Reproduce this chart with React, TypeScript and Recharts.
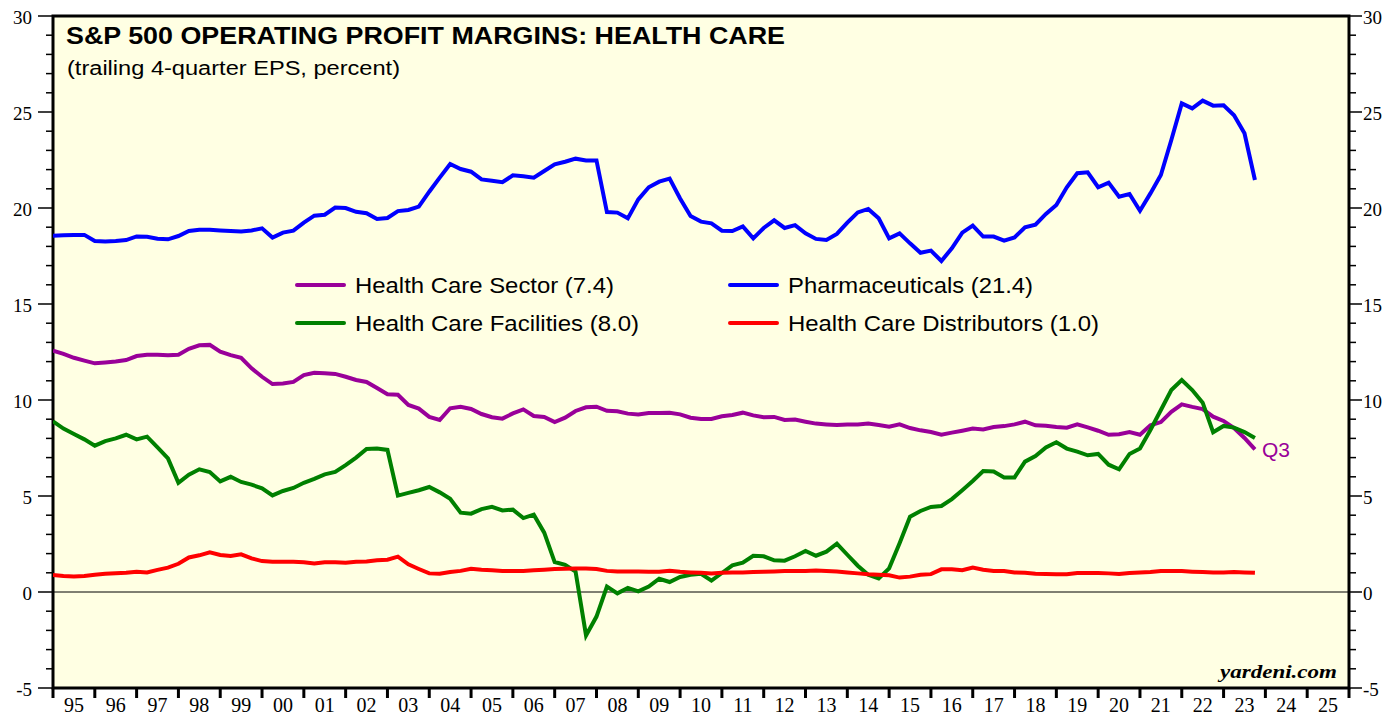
import React from 'react';
import {
  LineChart, Line, XAxis, YAxis, CartesianGrid, ReferenceLine, ReferenceArea,
} from 'recharts';

// quarterly, first point = 1995.0, one step = a quarter
const START_YEAR = 1995;

const SECTOR = [
  12.57, 12.4, 12.2, 12.05, 11.91, 11.95, 12.0, 12.08, 12.29, 12.36,
  12.36, 12.33, 12.36, 12.67, 12.85, 12.87, 12.52, 12.34, 12.2, 11.65,
  11.21, 10.83, 10.86, 10.94, 11.3, 11.42, 11.39, 11.36, 11.21, 11.04,
  10.94, 10.62, 10.3, 10.27, 9.74, 9.55, 9.12, 8.96, 9.57, 9.65,
  9.53, 9.27, 9.1, 9.03, 9.3, 9.51, 9.17, 9.12, 8.85, 9.08,
  9.43, 9.62, 9.65, 9.44, 9.41, 9.29, 9.25, 9.32, 9.32, 9.34,
  9.25, 9.08, 9.01, 9.01, 9.15, 9.22, 9.34, 9.2, 9.1, 9.12,
  8.96, 8.98, 8.87, 8.77, 8.73, 8.7, 8.72, 8.72, 8.78, 8.7,
  8.61, 8.73, 8.54, 8.42, 8.33, 8.19, 8.3, 8.4, 8.51, 8.47,
  8.59, 8.64, 8.73, 8.87, 8.68, 8.66, 8.59, 8.56, 8.73, 8.57,
  8.4, 8.19, 8.22, 8.33, 8.19, 8.68, 8.85, 9.38, 9.77, 9.64,
  9.53, 9.13, 8.91, 8.54, 8.02, 7.43,
];

const PHARMA = [
  18.56, 18.58, 18.6, 18.6, 18.28, 18.25, 18.28, 18.33, 18.52, 18.5,
  18.4, 18.37, 18.54, 18.8, 18.87, 18.87, 18.83, 18.8, 18.78, 18.83,
  18.94, 18.46, 18.72, 18.82, 19.24, 19.6, 19.65, 20.02, 20.0, 19.8,
  19.73, 19.43, 19.48, 19.84, 19.9, 20.07, 20.85, 21.58, 22.29, 22.03,
  21.89, 21.49, 21.42, 21.34, 21.7, 21.65, 21.58, 21.93, 22.27, 22.41,
  22.57, 22.48, 22.48, 19.79, 19.76, 19.46, 20.45, 21.08, 21.37, 21.53,
  20.5, 19.58, 19.29, 19.2, 18.82, 18.8, 19.04, 18.42, 18.96, 19.36,
  18.96, 19.11, 18.68, 18.39, 18.33, 18.65, 19.24, 19.77, 19.95, 19.46,
  18.42, 18.68, 18.16, 17.67, 17.78, 17.24, 17.9, 18.72, 19.08, 18.51,
  18.51, 18.3, 18.47, 18.99, 19.13, 19.69, 20.16, 21.08, 21.81, 21.86,
  21.08, 21.32, 20.59, 20.73, 19.86, 20.76, 21.72, 23.54, 25.45, 25.19,
  25.59, 25.33, 25.35, 24.83, 23.89, 21.46,
];

const FACILITIES = [
  8.89, 8.51, 8.23, 7.95, 7.62, 7.86, 8.0, 8.19, 7.95, 8.09,
  7.53, 6.96, 5.69, 6.11, 6.39, 6.25, 5.76, 6.0, 5.73, 5.59,
  5.4, 5.03, 5.26, 5.42, 5.69, 5.89, 6.13, 6.25, 6.61, 7.0,
  7.45, 7.47, 7.4, 5.02, 5.16, 5.3, 5.47, 5.19, 4.86, 4.13,
  4.08, 4.32, 4.44, 4.25, 4.29, 3.85, 4.03, 3.09, 1.56, 1.41,
  1.06, -2.26, -1.28, 0.28, -0.07, 0.21, 0.03, 0.28, 0.69, 0.52,
  0.78, 0.9, 0.95, 0.59, 0.99, 1.39, 1.53, 1.89, 1.86, 1.65,
  1.63, 1.86, 2.14, 1.89, 2.1, 2.52, 1.94, 1.37, 0.9, 0.71,
  1.23, 2.54, 3.92, 4.22, 4.43, 4.48, 4.84, 5.3, 5.78, 6.3,
  6.28, 5.97, 5.97, 6.79, 7.08, 7.53, 7.8, 7.47, 7.31, 7.12,
  7.19, 6.63, 6.39, 7.19, 7.47, 8.44, 9.48, 10.52, 11.04, 10.52,
  9.86, 8.32, 8.65, 8.56, 8.33, 8.02,
];

const DISTRIBUTORS = [
  0.89, 0.83, 0.81, 0.83, 0.9, 0.95, 0.98, 1.0, 1.06, 1.02,
  1.15, 1.27, 1.47, 1.8, 1.91, 2.07, 1.93, 1.88, 1.96, 1.75,
  1.61, 1.57, 1.57, 1.57, 1.55, 1.48, 1.55, 1.55, 1.53, 1.57,
  1.59, 1.65, 1.68, 1.84, 1.44, 1.2, 0.97, 0.95, 1.04, 1.1,
  1.21, 1.16, 1.13, 1.09, 1.09, 1.1, 1.13, 1.16, 1.2, 1.21,
  1.23, 1.23, 1.2, 1.1, 1.07, 1.07, 1.07, 1.05, 1.05, 1.1,
  1.05, 1.02, 1.0, 0.97, 1.0, 1.02, 1.02, 1.04, 1.05, 1.07,
  1.09, 1.1, 1.1, 1.12, 1.1, 1.07, 1.02, 0.97, 0.92, 0.9,
  0.87, 0.75, 0.8, 0.9, 0.93, 1.18, 1.18, 1.13, 1.27, 1.16,
  1.1, 1.09, 1.02, 1.0, 0.95, 0.94, 0.92, 0.92, 0.99, 0.99,
  0.99, 0.97, 0.94, 0.99, 1.02, 1.04, 1.09, 1.09, 1.09, 1.06,
  1.04, 1.02, 1.02, 1.04, 1.02, 1.0,
];

const YEAR_TICKS = [
  1995, 1996, 1997, 1998, 1999, 2000, 2001, 2002, 2003, 2004, 2005,
  2006, 2007, 2008, 2009, 2010, 2011, 2012, 2013, 2014, 2015, 2016,
  2017, 2018, 2019, 2020, 2021, 2022, 2023, 2024, 2025, 2026,
];
const YEAR_LABELS = [
  '95', '96', '97', '98', '99', '00', '01', '02', '03', '04', '05',
  '06', '07', '08', '09', '10', '11', '12', '13', '14', '15', '16',
  '17', '18', '19', '20', '21', '22', '23', '24', '25',
];
const Y_TICKS = [
  -5, -4, -3, -2, -1, 0, 1, 2, 3, 4, 5, 6, 7, 8, 9, 10, 11, 12, 13, 14, 15,
  16, 17, 18, 19, 20, 21, 22, 23, 24, 25, 26, 27, 28, 29, 30,
];

const SERIES = [
  { key: 'sector', name: 'Health Care Sector (7.4)', color: '#990099' },
  { key: 'pharma', name: 'Pharmaceuticals (21.4)', color: '#0000ff' },
  { key: 'facilities', name: 'Health Care Facilities (8.0)', color: '#008000' },
  { key: 'distributors', name: 'Health Care Distributors (1.0)', color: '#ff0000' },
];

const data = SECTOR.map((v, i) => ({
  t: START_YEAR + i / 4,
  sector: v,
  pharma: PHARMA[i],
  facilities: FACILITIES[i],
  distributors: DISTRIBUTORS[i],
}));

const W = 1395;
const H = 717;
const LEFT_W = 53;
const RIGHT_W = 46;
const TOP = 16;
const X_H = 29;
const HALF_YEAR = (W - LEFT_W - RIGHT_W) / (YEAR_TICKS.length - 1) / 2;

const SERIF = '"Liberation Serif", "Times New Roman", serif';
const SANS = '"Liberation Sans", Arial, sans-serif';
const BG = '#ffffe3';

function LeftTick({ x, y, payload }: any) {
  const v = payload.value;
  const major = v % 5 === 0;
  return (
    <g>
      <line x1={x - (major ? 15 : 7)} x2={x} y1={y} y2={y} stroke="#000" strokeWidth={1.5} />
      {major && (
        <text x={x - 21} y={y + 8} textAnchor="end" fontFamily={SERIF} fontSize={19} fill="#000">{v}</text>
      )}
    </g>
  );
}

function RightTick({ x, y, payload }: any) {
  const v = payload.value;
  const major = v % 5 === 0;
  return (
    <g>
      <line x1={x} x2={x + (major ? 13 : 7)} y1={y} y2={y} stroke="#000" strokeWidth={1.5} />
      {major && (
        <text x={x + 14} y={y + 8} textAnchor="start" fontFamily={SERIF} fontSize={19} fill="#000">{v}</text>
      )}
    </g>
  );
}

function YearTick({ x, y, index }: any) {
  const label = YEAR_LABELS[index];
  return (
    <g>
      <line x1={x} x2={x} y1={y} y2={y + 10} stroke="#000" strokeWidth={3} />
      {label && (
        <text x={x + HALF_YEAR} y={y + 24} textAnchor="middle" fontFamily={SERIF} fontSize={20} fill="#000">{label}</text>
      )}
    </g>
  );
}

const LEGEND_POS = [
  { x: 297, y: 285, len: 259 },
  { x: 730, y: 285, len: 245 },
  { x: 297, y: 323, len: 284 },
  { x: 730, y: 323, len: 311 },
];

function ChartLegend() {
  return (
    <g>
      {SERIES.map((s, i) => {
        const p = LEGEND_POS[i];
        return (
          <g key={s.key}>
            <line x1={p.x} x2={p.x + 47} y1={p.y} y2={p.y} stroke={s.color} strokeWidth={4} strokeLinecap="round" />
            <text x={p.x + 58} y={p.y + 8} fontFamily={SANS} fontSize={22} fill="#000"
              textLength={p.len} lengthAdjust="spacingAndGlyphs">{s.name}</text>
          </g>
        );
      })}
    </g>
  );
}

function lastLabel(props: any) {
  const { x, y, index } = props;
  if (index !== SECTOR.length - 1) return null;
  return (
    <text key="q3" x={x + 7} y={y + 8} fontFamily={SANS} fontSize={21} fill="#990099">Q3</text>
  );
}

export default function App() {
  return (
    <div style={{ position: 'absolute', left: 0, top: 0, width: W, height: H, background: '#fff' }}>
      <LineChart width={W} height={H} data={data} margin={{ top: TOP, right: 0, bottom: 0, left: 0 }}>
        <CartesianGrid fill={BG} horizontal={false} vertical={false} />
        <XAxis
          dataKey="t" type="number" domain={[1995, 2026]} ticks={YEAR_TICKS} interval={0}
          height={X_H} tickSize={0} tickMargin={0} axisLine={false} tickLine={false}
          tick={<YearTick />} allowDataOverflow
        />
        <YAxis
          yAxisId="l" domain={[-5, 30]} ticks={Y_TICKS} interval={0} width={LEFT_W}
          tickSize={0} tickMargin={0} axisLine={false} tickLine={false} tick={<LeftTick />}
          allowDataOverflow
        />
        <YAxis
          yAxisId="r" orientation="right" domain={[-5, 30]} ticks={Y_TICKS} interval={0}
          width={RIGHT_W} tickSize={0} tickMargin={0} axisLine={false} tickLine={false}
          tick={<RightTick />} allowDataOverflow
        />
        <ReferenceLine yAxisId="l" y={0} stroke="#000" strokeWidth={1} />
        {SERIES.map((s) => (
          <Line
            key={s.key} yAxisId="l" type="linear" dataKey={s.key} name={s.name}
            stroke={s.color} strokeWidth={4} dot={false} isAnimationActive={false}
            label={s.key === 'sector' ? lastLabel : undefined}
          />
        ))}
        <ReferenceArea
          yAxisId="l" x1={1995} x2={2026} y1={-5} y2={30}
          fill="none" fillOpacity={0} stroke="#000" strokeWidth={3} ifOverflow="visible"
        />
        <text x={66} y={44} fontFamily={SANS} fontWeight="bold" fontSize={23} fill="#000"
          textLength={719} lengthAdjust="spacingAndGlyphs">
          S&amp;P 500 OPERATING PROFIT MARGINS: HEALTH CARE
        </text>
        <text x={67} y={75} fontFamily={SANS} fontSize={20} fill="#000"
          textLength={333} lengthAdjust="spacingAndGlyphs">
          (trailing 4-quarter EPS, percent)
        </text>
        <text x={1337} y={678} textAnchor="end" fontFamily={SERIF} fontWeight="bold"
          fontStyle="italic" fontSize={19} fill="#000" textLength={117} lengthAdjust="spacingAndGlyphs">
          yardeni.com
        </text>
        <ChartLegend />
      </LineChart>
    </div>
  );
}
